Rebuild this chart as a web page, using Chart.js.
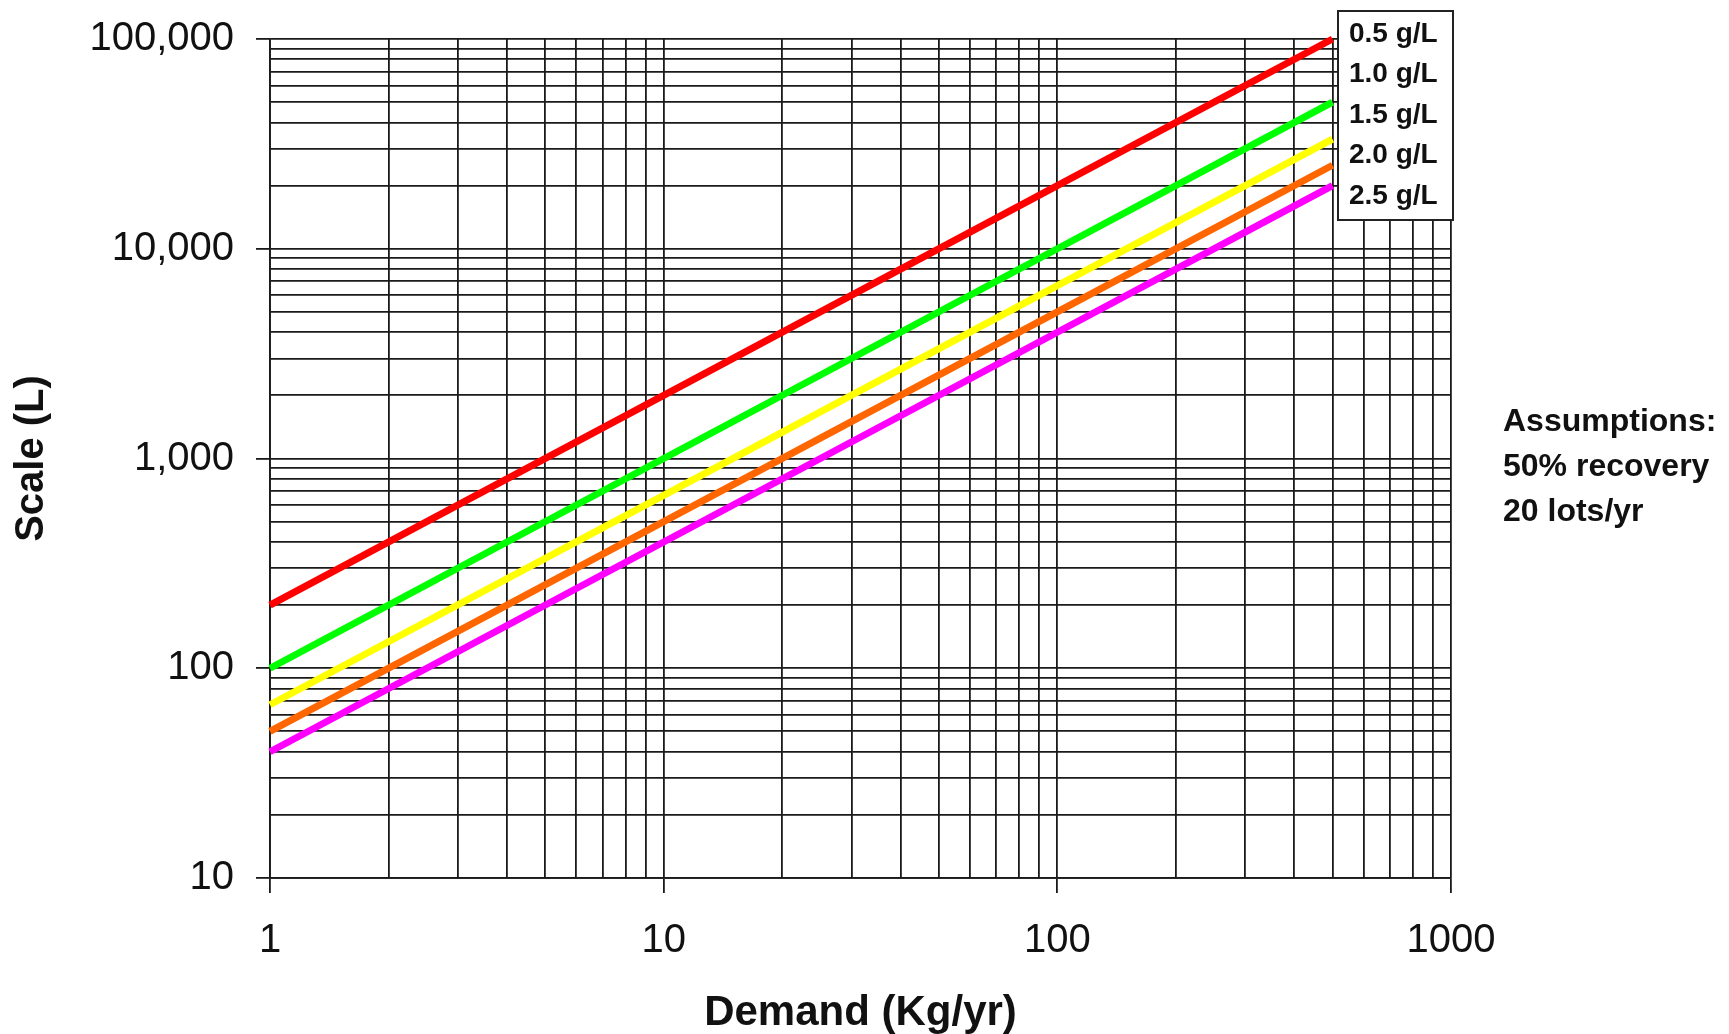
<!DOCTYPE html>
<html>
<head>
<meta charset="utf-8">
<script src="https://cdn.jsdelivr.net/npm/chart.js@4/dist/chart.umd.min.js"></script>
<style>
  html, body { margin: 0; padding: 0; background: #fff; }
  #wrap { width: 1729px; height: 1034px; position: relative; }
</style>
</head>
<body>
<div id="wrap"><canvas id="scaleChart"></canvas></div>
<script>
const demand = [1, 10, 100, 500];

// Scale (L) per titre
const scale05 = [200, 2000, 20000, 100000];
const scale10 = [100, 1000, 10000, 50000];
const scale15 = [67, 667, 6667, 33333];
const scale20 = [50, 500, 5000, 25000];
const scale25 = [40, 400, 4000, 20000];

const seriesLabels = ['0.5 g/L', '1.0 g/L', '1.5 g/L', '2.0 g/L', '2.5 g/L'];
const seriesColors = ['#ff0000', '#00ff00', '#ffff00', '#ff6600', '#ff00ff'];

// tick labels
const xMajor = [1, 10, 100, 1000];
const xTickLabels = ['1', '10', '100', '1000'];
const yMajor = [10, 100, 1000, 10000, 100000];
const yTickLabels = ['10', '100', '1,000', '10,000', '100,000'];

const notes = ['Assumptions:', '50% recovery', '20 lots/yr'];

// gridlines at 1..9 of every decade
function decadeTicks(majors) {
  const out = [];
  for (let i = 0; i < majors.length - 1; i++) {
    for (let k = 1; k < 10; k++) out.push(majors[i] * k);
  }
  out.push(majors[majors.length - 1]);
  return out;
}

function toPoints(ys) {
  return demand.map((x, i) => ({ x: x, y: ys[i] }));
}

const allSeries = [scale05, scale10, scale15, scale20, scale25];
const datasets = allSeries.map((ys, i) => ({
  label: seriesLabels[i],
  data: toPoints(ys),
  borderColor: seriesColors[i],
  backgroundColor: seriesColors[i],
  borderWidth: 7,
  pointRadius: 0,
  tension: 0,
  clip: false
}));

const gridColor = '#1a1a1a';
const textColor = '#111';
const fontFam = '"Liberation Sans", Arial, sans-serif';

// legend box + notes on the right
const sidePanel = {
  id: 'sidePanel',
  afterDraw(chart) {
    const ctx = chart.ctx;
    ctx.save();
    // legend box
    const bx = 1338, by = 11, bw = 115, bh = 209;
    ctx.fillStyle = '#fff';
    ctx.fillRect(bx, by, bw, bh);
    ctx.strokeStyle = '#222';
    ctx.lineWidth = 2;
    ctx.strokeRect(bx, by, bw, bh);
    ctx.fillStyle = textColor;
    ctx.font = 'bold 28px ' + fontFam;
    ctx.textBaseline = 'middle';
    ctx.textAlign = 'left';
    chart.data.datasets.forEach((ds, i) => {
      ctx.fillText(ds.label, 1349, 34 + i * 40.5);
    });
    // assumptions
    ctx.font = 'bold 32px ' + fontFam;
    notes.forEach((t, i) => {
      ctx.fillText(t, 1503, 422 + i * 45);
    });
    ctx.restore();
  }
};

new Chart(document.getElementById('scaleChart'), {
  type: 'line',
  data: { datasets: datasets },
  plugins: [sidePanel],
  options: {
    responsive: true,
    maintainAspectRatio: false,
    animation: false,
    layout: { padding: { left: 0, right: 278, top: 39, bottom: 0 } },
    plugins: {
      legend: { display: false },
      tooltip: { enabled: false }
    },
    scales: {
      x: {
        type: 'logarithmic',
        min: 1,
        max: 1000,
        afterBuildTicks: s => { s.ticks = decadeTicks(xMajor).map(v => ({ value: v })); },
        afterFit: s => { s.height = 156; },
        grid: {
          color: gridColor,
          lineWidth: 1.8,
          tickLength: 15,
          tickColor: c => xMajor.includes(c.tick.value) ? gridColor : 'rgba(0,0,0,0)'
        },
        border: { color: gridColor, width: 1.8 },
        ticks: {
          autoSkip: false,
          maxRotation: 0,
          padding: 24,
          color: textColor,
          font: { family: fontFam, size: 40 },
          callback: v => {
            const i = xMajor.indexOf(v);
            return i >= 0 ? xTickLabels[i] : '';
          }
        },
        title: {
          display: true,
          text: 'Demand (Kg/yr)',
          color: textColor,
          font: { family: fontFam, size: 42, weight: 'bold', lineHeight: 1 },
          padding: { top: 0, bottom: 0 }
        }
      },
      y: {
        type: 'logarithmic',
        min: 10,
        max: 100000,
        afterBuildTicks: s => { s.ticks = decadeTicks(yMajor).map(v => ({ value: v })); },
        afterFit: s => {
          s.width = 270;
          s.paddingTop = 0;
          s.paddingBottom = 0;
        },
        grid: {
          color: gridColor,
          lineWidth: 1.8,
          tickLength: 14,
          tickColor: c => yMajor.includes(c.tick.value) ? gridColor : 'rgba(0,0,0,0)'
        },
        border: { color: gridColor, width: 1.8 },
        ticks: {
          autoSkip: false,
          padding: 22,
          color: textColor,
          font: { family: fontFam, size: 40 },
          callback: v => {
            const i = yMajor.indexOf(v);
            return i >= 0 ? yTickLabels[i] : '';
          }
        },
        title: {
          display: true,
          text: 'Scale (L)',
          color: textColor,
          font: { family: fontFam, size: 40, weight: 'bold' },
          padding: { top: 8, bottom: 0 }
        }
      }
    }
  }
});
</script>
</body>
</html>
